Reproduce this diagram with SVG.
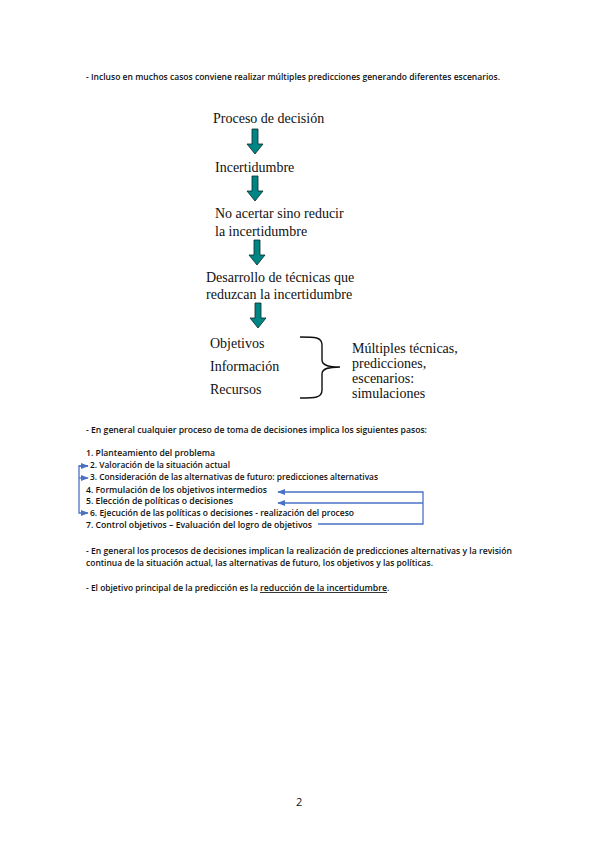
<svg xmlns="http://www.w3.org/2000/svg" width="599" height="848" viewBox="0 0 599 848">
<defs>
<style>
.s{font-family:"Open Sans","Liberation Sans",Arial,sans-serif;font-size:8.4px;font-weight:600;fill:#111}
.t{font-family:"Liberation Serif","Times New Roman",serif;font-size:14px;fill:#111}
.ar{fill:#008585;stroke:#0a2a2a;stroke-width:0.8}
.ln{fill:none;stroke:#4a72c4;stroke-width:1.3}
</style>
<marker id="ah" viewBox="0 0 10 10" refX="9" refY="5" markerWidth="6" markerHeight="6" orient="auto-start-reverse">
<path d="M0,1 L10,5 L0,9 Z" fill="#4a72c4"/>
</marker>
<path id="darr" d="M-3,0 L3,0 L3,15 L8,15 L0,25 L-8,15 L-3,15 Z"/>
</defs>
<rect width="599" height="848" fill="#fff"/>

<text class="s" x="86" y="80" textLength="414" lengthAdjust="spacingAndGlyphs">- Incluso en muchos casos conviene realizar múltiples predicciones generando diferentes escenarios.</text>

<g id="n1"><text class="t" x="213" y="123">Proceso de decisión</text></g>
<g id="n2"><text class="t" x="215" y="172">Incertidumbre</text></g>
<g id="n3"><text class="t" x="215" y="218">No acertar sino reducir</text><text class="t" x="215" y="236">la incertidumbre</text></g>
<g id="n4"><text class="t" x="206" y="282">Desarrollo de técnicas que</text><text class="t" x="206" y="299">reduzcan la incertidumbre</text></g>
<g id="n5"><text class="t" x="210" y="348">Objetivos</text><text class="t" x="210" y="371">Información</text><text class="t" x="210" y="394">Recursos</text></g>
<g id="n6"><text class="t" x="352" y="353">Múltiples técnicas,</text><text class="t" x="352" y="368">predicciones,</text><text class="t" x="352" y="383">escenarios:</text><text class="t" x="352" y="398">simulaciones</text></g>

<g id="connectors">
<use href="#darr" class="ar" x="255" y="129"/>
<use href="#darr" class="ar" x="255" y="176"/>
<use href="#darr" class="ar" x="257" y="240"/>
<use href="#darr" class="ar" x="258" y="303"/>
<path d="M300,337 C315,337 322,337 322,345 L322,360 C322,366 330,367 340,367 C330,367 322,368 322,374 L322,390 C322,398 315,398 300,398" fill="none" stroke="#111" stroke-width="1.4"/>
<path class="ln" d="M88,466 L79,466 L79,513 L88,513" marker-end="url(#ah)"/>
<path class="ln" d="M79,466 L88,466" marker-end="url(#ah)"/>
<path class="ln" d="M79,478 L88,478" marker-end="url(#ah)"/>
<path class="ln" d="M318,524 L423,524 L423,492 L278,492" marker-end="url(#ah)"/>
<path class="ln" d="M423,503 L278,503" marker-end="url(#ah)"/>
</g>

<text class="s" x="86" y="433" textLength="341" lengthAdjust="spacingAndGlyphs">- En general cualquier proceso de toma de decisiones implica los siguientes pasos:</text>
<text class="s" x="86" y="456" textLength="129" lengthAdjust="spacingAndGlyphs">1. Planteamiento del problema</text>
<text class="s" x="90" y="468" textLength="140" lengthAdjust="spacingAndGlyphs">2. Valoración de la situación actual</text>
<text class="s" x="90" y="480" textLength="288" lengthAdjust="spacingAndGlyphs">3. Consideración de las alternativas de futuro: predicciones alternativas</text>
<text class="s" x="86" y="493" textLength="181" lengthAdjust="spacingAndGlyphs">4. Formulación de los objetivos intermedios</text>
<text class="s" x="86" y="504" textLength="147" lengthAdjust="spacingAndGlyphs">5. Elección de políticas o decisiones</text>
<text class="s" x="90" y="516" textLength="264" lengthAdjust="spacingAndGlyphs">6. Ejecución de las políticas o decisiones -  realización del proceso</text>
<text class="s" x="86" y="528" textLength="226" lengthAdjust="spacingAndGlyphs">7. Control objetivos – Evaluación del logro de objetivos</text>

<text class="s" x="86" y="554" textLength="426" lengthAdjust="spacingAndGlyphs">- En general los procesos de decisiones implican la realización de predicciones alternativas y la revisión</text>
<text class="s" x="86" y="566" textLength="347" lengthAdjust="spacingAndGlyphs">continua de la situación actual, las alternativas de futuro, los objetivos y las políticas.</text>
<text class="s" x="86" y="591"><tspan textLength="174" lengthAdjust="spacingAndGlyphs">- El objetivo principal de la predicción es la </tspan><tspan x="260" textLength="127" lengthAdjust="spacingAndGlyphs" text-decoration="underline">reducción de la incertidumbre</tspan><tspan x="387">.</tspan></text>

<text class="s" x="296" y="806" style="font-size:11px;font-weight:normal">2</text>
</svg>
